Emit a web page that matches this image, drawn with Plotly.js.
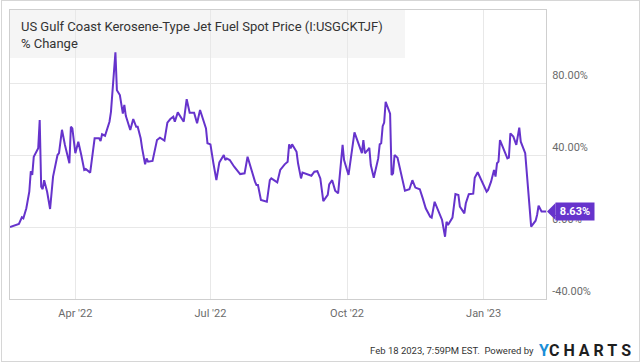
<!DOCTYPE html>
<html>
<head>
<meta charset="utf-8">
<script src="https://cdn.plot.ly/plotly-3.0.1.min.js"></script>
<style>
  html, body { margin: 0; padding: 0; background: #fff; }
  #wrap { position: relative; width: 640px; height: 362px; }
  #chart { width: 640px; height: 362px; }
  #frame { position: absolute; left: 1px; top: 0px; width: 637px; height: 360px; border: 1px solid #d6d6d6; pointer-events: none; }
</style>
</head>
<body>
<div id="wrap"><div id="chart"></div><div id="frame"></div></div>
<script>
const titleText = "US Gulf Coast Kerosene-Type Jet Fuel Spot Price (I:USGCKTJF)";
const subtitleText = "% Change";
const footerText = "Feb 18 2023, 7:59PM EST.  Powered by";

const dates = [
  '2022-02-16','2022-02-22','2022-02-24','2022-02-25','2022-02-27','2022-03-01','2022-03-02','2022-03-03','2022-03-04','2022-03-07',
  '2022-03-08','2022-03-09','2022-03-10','2022-03-11','2022-03-13','2022-03-15','2022-03-17','2022-03-20','2022-03-21','2022-03-23',
  '2022-03-25','2022-03-28','2022-03-29','2022-03-30','2022-04-01','2022-04-03','2022-04-05','2022-04-07','2022-04-08','2022-04-11',
  '2022-04-14','2022-04-17','2022-04-18','2022-04-19','2022-04-21','2022-04-24','2022-04-25','2022-04-28','2022-04-29','2022-05-01',
  '2022-05-03','2022-05-04','2022-05-05','2022-05-06','2022-05-08','2022-05-10','2022-05-12','2022-05-13','2022-05-15','2022-05-16',
  '2022-05-18','2022-05-19','2022-05-20','2022-05-23','2022-05-26','2022-05-28','2022-05-31','2022-06-02','2022-06-04','2022-06-06',
  '2022-06-07','2022-06-09','2022-06-13','2022-06-15','2022-06-17','2022-06-20','2022-06-22','2022-06-24','2022-06-26','2022-06-28',
  '2022-06-29','2022-07-01','2022-07-03','2022-07-05','2022-07-07','2022-07-10','2022-07-11','2022-07-12','2022-07-14','2022-07-17',
  '2022-07-21','2022-07-24','2022-07-26','2022-07-29','2022-07-31','2022-08-01','2022-08-02','2022-08-04','2022-08-08','2022-08-10',
  '2022-08-11','2022-08-15','2022-08-17','2022-08-20','2022-08-22','2022-08-23','2022-08-24','2022-08-25','2022-08-28','2022-08-29',
  '2022-08-31','2022-09-01','2022-09-05','2022-09-07','2022-09-09','2022-09-11','2022-09-13','2022-09-15','2022-09-18','2022-09-19',
  '2022-09-21','2022-09-23','2022-09-25','2022-09-28','2022-09-29','2022-10-02','2022-10-06','2022-10-09','2022-10-11','2022-10-12',
  '2022-10-13','2022-10-15','2022-10-16','2022-10-17','2022-10-19','2022-10-22','2022-10-23','2022-10-24','2022-10-25','2022-10-26',
  '2022-10-27','2022-10-30','2022-10-31','2022-11-01','2022-11-02','2022-11-04','2022-11-06','2022-11-09','2022-11-12','2022-11-14',
  '2022-11-16','2022-11-19','2022-11-21','2022-11-23','2022-11-26','2022-11-27','2022-11-29','2022-12-02','2022-12-04','2022-12-06',
  '2022-12-07','2022-12-08','2022-12-11','2022-12-13','2022-12-15','2022-12-16','2022-12-19','2022-12-20','2022-12-22','2022-12-25',
  '2022-12-26','2022-12-28','2022-12-30','2023-01-03','2023-01-04','2023-01-06','2023-01-08','2023-01-09','2023-01-10','2023-01-11',
  '2023-01-12','2023-01-15','2023-01-17','2023-01-18','2023-01-19','2023-01-21','2023-01-23','2023-01-25','2023-01-26','2023-01-29',
  '2023-01-31','2023-02-02','2023-02-05','2023-02-06','2023-02-07','2023-02-09','2023-02-12'
];

const pctChange = [
  0, 1.7, 5.4, 4.8, 10.4, 19.6, 31, 29, 39, 43.7,
  59.4, 22.4, 21, 26, 19.6, 10, 28, 40, 41, 54,
  45.6, 35.4, 55.7, 54.8, 41, 47.4, 40, 31.7, 32.2, 30.2,
  49.3, 49.3, 47.8, 51.5, 50.7, 58.5, 64, 97, 76, 73.3,
  63, 67.8, 61.8, 59.4, 53.9, 60, 55.7, 55.7, 49.3, 43.7,
  34.8, 38.1, 36.3, 36.7, 48.3, 49.6, 48, 58, 60, 61.3,
  58.5, 63.7, 58.5, 71, 63.5, 63.5, 57.6, 65, 60.4, 54.8,
  46.5, 45.9, 35.4, 26, 35.9, 40, 37.2, 38.1, 37.2, 33.5,
  29.4, 29.8, 39, 29.8, 25.2, 23.3, 23.3, 15, 14, 26,
  27, 24.8, 31.7, 34.8, 36.3, 45.9, 43.7, 45.9, 41.8, 35.4,
  27, 30.2, 28.9, 28.5, 30.7, 31, 27, 14.4, 17.8, 23.7,
  26, 20.2, 18.7, 45.6, 37.2, 28.9, 52.6, 45.6, 41, 48.3,
  41, 42.8, 44, 34.4, 27.4, 38.1, 45.9, 46.5, 56, 58,
  69.6, 63, 28.9, 29.8, 40, 38.5, 31.7, 20.2, 21, 26,
  21.9, 21, 15.9, 10.4, 5.7, 5.2, 14, 8.5, 3.9, -5.4,
  2.9, 1.1, 5.2, 18.3, 17.8, 11.3, 7.6, 13.2, 18.2, 18.5,
  27.4, 30.4, 27, 19.6, 20.6, 25.2, 31.7, 28, 35.4, 36.3,
  48.3, 41.8, 38.1, 38.5, 52, 50.2, 45.6, 55.2, 47.4, 41,
  21.5, 0.2, 3.5, 6.7, 11.8, 8.63, 8.63
];

const xTickVals = ['2022-04-01', '2022-07-01', '2022-10-01', '2023-01-01'];
const xTickText = ["Apr '22", "Jul '22", "Oct '22", "Jan '23"];
const yTickVals = [-40, 0, 40, 80];
const yTickText = ['-40.00%', '0.00%', '40.00%', '80.00%'];

const purple = '#6633cc';
const yMin = -40, yMax = 120.56;
const lastDate = dates[dates.length - 1];
const lastVal = pctChange[pctChange.length - 1];

const trace = {
  type: 'scatter', mode: 'lines', x: dates, y: pctChange,
  line: { color: purple, width: 2 }, hoverinfo: 'skip'
};

const tickFont = { family: 'Roboto, sans-serif', size: 11, color: '#6b6b6b' };

const layout = {
  width: 640, height: 362,
  margin: { l: 10, r: 94, t: 10, b: 63, pad: 0 },
  paper_bgcolor: '#ffffff', plot_bgcolor: '#ffffff',
  showlegend: false,
  xaxis: {
    type: 'date', range: ['2022-02-16', '2023-02-12'],
    tickmode: 'array', tickvals: xTickVals, ticktext: xTickText,
    showgrid: true, gridcolor: '#e8e8e8', gridwidth: 1,
    showline: true, mirror: true, linecolor: '#cfcfcf', linewidth: 1,
    ticks: '', zeroline: false, tickfont: tickFont, ticklabelstandoff: 4, fixedrange: true
  },
  yaxis: {
    side: 'right', range: [yMin, yMax],
    tickmode: 'array', tickvals: yTickVals, ticktext: yTickText,
    showgrid: true, gridcolor: '#e8e8e8', gridwidth: 1,
    showline: true, mirror: true, linecolor: '#cfcfcf', linewidth: 1,
    ticks: '', zeroline: false, tickfont: tickFont,
    ticklabelposition: 'outside top', ticklabelstandoff: 3, fixedrange: true
  },
  shapes: [
    { type: 'rect', xref: 'paper', yref: 'paper', x0: 0, x1: 0.737, y0: 0.834, y1: 1,
      fillcolor: '#f5f5f5', line: { width: 0 }, layer: 'below' },
    { type: 'path', xref: 'paper', yref: 'paper', xsizemode: 'pixel', ysizemode: 'pixel',
      xanchor: 1, yanchor: (lastVal - yMin) / (yMax - yMin),
      path: 'M1,0 L9.5,8.5 L9.5,-8.5 Z', fillcolor: purple, line: { width: 0 }, layer: 'above' }
  ],
  annotations: [
    { xref: 'paper', yref: 'paper', x: 0.0168, y: 1, xanchor: 'left', yanchor: 'top', yshift: -7,
      align: 'left', showarrow: false, text: titleText + '<br>' + subtitleText,
      font: { family: 'Roboto, sans-serif', size: 13, color: '#333333' } },
    { xref: 'paper', yref: 'paper', x: 0.981, y: -0.1765, xanchor: 'right', yanchor: 'middle',
      showarrow: false, text: footerText,
      font: { family: 'Roboto, sans-serif', size: 9.5, color: '#333333' } },
    { xref: 'paper', yref: 'paper', x: 0.984, y: -0.1765, xanchor: 'left', yanchor: 'middle',
      showarrow: false,
      text: '<span style="color:#1a8fd8">Y</span><span style="letter-spacing:4px">CHARTS</span>',
      font: { family: 'Roboto, sans-serif', size: 16, color: '#1e1e1e', weight: 'bold' } },
    { xref: 'x', yref: 'y', x: lastDate, y: lastVal, xanchor: 'left', yanchor: 'middle', xshift: 9,
      showarrow: false, text: lastVal.toFixed(2) + '%', bgcolor: purple, width: 38, height: 17,
      borderpad: 0, font: { family: 'Roboto, sans-serif', size: 11, color: '#ffffff', weight: 'bold' } }
  ]
};

Plotly.newPlot('chart', [trace], layout, { displayModeBar: false, staticPlot: true });
</script>
</body>
</html>
